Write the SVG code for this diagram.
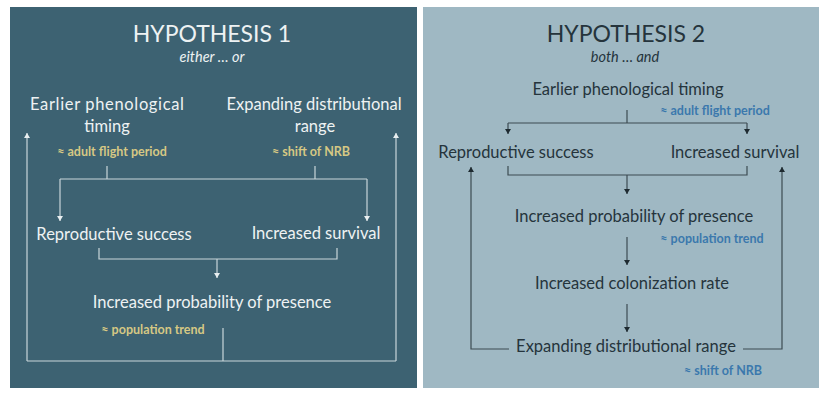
<svg xmlns="http://www.w3.org/2000/svg" width="819" height="395" viewBox="0 0 819 395">
<style>
text{font-family:Lato,"Open Sans","Liberation Sans",sans-serif;text-anchor:middle}
.t1{fill:#eef2f3}
.t2{fill:#25343c}
.big{font-size:16.5px}
.title{font-size:23px}
.sub{font-size:14.5px;font-style:italic}
.note{font-size:12.5px;font-weight:bold}
.y{fill:#d6c884}
.b{fill:#3b78ad}
.l1{fill:none;stroke:#c9d6da;stroke-width:1.2}
.l2{fill:none;stroke:#3d4b52;stroke-width:1.2}
</style>
<defs>
<marker id="aw" markerUnits="userSpaceOnUse" markerWidth="8" markerHeight="8" refX="5" refY="3" orient="auto"><path d="M0,0 L5,3 L0,6z" fill="#e8eef0"/></marker>
<marker id="ad" markerUnits="userSpaceOnUse" markerWidth="8" markerHeight="8" refX="5" refY="3" orient="auto"><path d="M0,0 L5,3 L0,6z" fill="#1e2a30"/></marker>
</defs>
<rect x="0" y="0" width="819" height="395" fill="#ffffff"/>
<rect x="10" y="7" width="407" height="381" fill="#3d6272"/>
<rect x="423" y="7" width="396" height="381" fill="#9fb8c3"/>

<g id="panel1">
<g id="h1-title"><text class="t1 title" x="212" y="42">HYPOTHESIS 1</text><text class="t1 sub" x="212" y="62">either … or</text></g>
<g id="h1-timing"><text class="t1 big" x="107" y="110" textLength="154">Earlier phenological</text><text class="t1 big" x="107" y="132">timing</text><text class="note y" x="112" y="156">≈ adult flight period</text></g>
<g id="h1-range"><text class="t1 big" x="314" y="110">Expanding distributional</text><text class="t1 big" x="315" y="132">range</text><text class="note y" x="311" y="156">≈ shift of NRB</text></g>
<g id="h1-repro"><text class="t1 big" x="114" y="240">Reproductive success</text></g>
<g id="h1-surv"><text class="t1 big" x="316" y="239">Increased survival</text></g>
<g id="h1-presence"><text class="t1 big" x="212" y="308">Increased probability of presence</text><text class="note y" x="153" y="334">≈  population trend</text></g>
</g>

<g id="panel2">
<g id="h2-title"><text class="t2 title" x="626" y="42">HYPOTHESIS 2</text><text class="t2 sub" x="625" y="62">both … and</text></g>
<g id="h2-timing"><text class="t2 big" x="628" y="95">Earlier phenological timing</text><text class="note b" x="715" y="115">≈ adult flight period</text></g>
<g id="h2-repro"><text class="t2 big" x="516" y="158">Reproductive success</text></g>
<g id="h2-surv"><text class="t2 big" x="735" y="158">Increased survival</text></g>
<g id="h2-presence"><text class="t2 big" x="634" y="222">Increased probability of presence</text><text class="note b" x="712" y="243">≈  population trend</text></g>
<g id="h2-colon"><text class="t2 big" x="632" y="289">Increased colonization rate</text></g>
<g id="h2-range"><text class="t2 big" x="626" y="352">Expanding distributional range</text><text class="note b" x="723" y="375">≈ shift of NRB</text></g>
</g>

<g id="connectors">
<path class="l1" d="M107,166 V179 M315,166 V179 M60,179 H367"/>
<path class="l1" d="M60,179 V221" marker-end="url(#aw)"/>
<path class="l1" d="M367,179 V221" marker-end="url(#aw)"/>
<path class="l1" d="M99,248 V259 H337 V248"/>
<path class="l1" d="M217,259 V278" marker-end="url(#aw)"/>
<path class="l1" d="M223,328 V361 M27,361 H396"/>
<path class="l1" d="M27,361 V133" marker-end="url(#aw)"/>
<path class="l1" d="M396,361 V133" marker-end="url(#aw)"/>

<path class="l2" d="M627,110 V123 M508,123 H747"/>
<path class="l2" d="M508,123 V134" marker-end="url(#ad)"/>
<path class="l2" d="M747,123 V134" marker-end="url(#ad)"/>
<path class="l2" d="M508,166 V175 H747 V166"/>
<path class="l2" d="M627,175 V194" marker-end="url(#ad)"/>
<path class="l2" d="M627,237 V265" marker-end="url(#ad)"/>
<path class="l2" d="M627,304 V332" marker-end="url(#ad)"/>
<path class="l2" d="M509,349 H471 V167" marker-end="url(#ad)"/>
<path class="l2" d="M743,349 H782 V167" marker-end="url(#ad)"/>
</g>
</svg>
